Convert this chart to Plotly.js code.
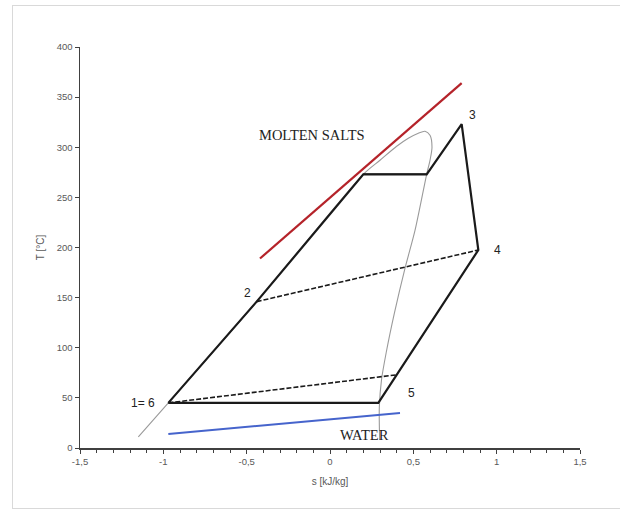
<!DOCTYPE html>
<html>
<head>
<meta charset="utf-8">
<script src="https://cdn.plot.ly/plotly-3.0.1.min.js"></script>
<style>
  html, body { margin: 0; padding: 0; background: #ffffff; }
  #wrap { position: relative; width: 620px; height: 510px; overflow: hidden; }
  #chart { width: 620px; height: 510px; }
  #frame { position: absolute; left: 12px; top: 5px; width: 640px; height: 502px;
           border: 1px solid #d9d9d9; pointer-events: none; }
</style>
</head>
<body>
<div id="wrap"><div id="chart"></div><div id="frame"></div></div>
<script>
// Rankine cycle (thick solid): 1 -> pump end -> 5 -> 4 -> 3 -> sat vapour -> sat liquid -> 2 -> 1
const cycleS = [-0.97, 0.29, 0.40, 0.89, 0.79, 0.58, 0.20, -0.44, -0.97];
const cycleT = [45, 45, 73, 197.5, 323, 273, 273, 146, 45];

// evaporation plateau (thinner)
const plateauS = [0.20, 0.58];
const plateauT = [273, 273];

// regenerator dashed lines
const regenHotS = [-0.44, 0.89];
const regenHotT = [146, 197.5];
const regenColdS = [-0.97, 0.40];
const regenColdT = [45, 73];

// saturation dome (grey)
const domeS = [-1.15, -0.97, -0.44, 0.20, 0.30, 0.40, 0.47, 0.53, 0.57, 0.60, 0.612, 0.60, 0.58, 0.51, 0.448, 0.387, 0.337, 0.309, 0.296, 0.298];
const domeT = [11, 45, 146, 273, 287, 301, 309, 314, 316, 312, 300, 287, 273, 217, 178, 135, 95, 68, 41, 8];

// heat source / sink lines
const saltS = [-0.42, 0.79];
const saltT = [189, 364];
const waterS = [-0.97, 0.42];
const waterT = [14, 35];

// state point labels
const ptLabels = ['1= 6', '2', '3', '4', '5'];
const ptS = [-0.97, -0.44, 0.79, 0.89, 0.40];
const ptT = [45, 146, 323, 197.5, 73];

const xTicks = [-1.5, -1, -0.5, 0, 0.5, 1, 1.5];
const yTicks = [0, 50, 100, 150, 200, 250, 300, 350, 400];

const traces = [
  { x: domeS, y: domeT, mode: 'lines', line: { color: '#9a9a9a', width: 1.1, shape: 'spline', smoothing: 0.8 }, hoverinfo: 'skip' },
  { x: saltS, y: saltT, mode: 'lines', line: { color: '#b5232a', width: 2.2 } },
  { x: waterS, y: waterT, mode: 'lines', line: { color: '#4664cc', width: 2 } },
  { x: regenHotS, y: regenHotT, mode: 'lines', line: { color: '#1a1a1a', width: 1.6, dash: '5px,2px' } },
  { x: regenColdS, y: regenColdT, mode: 'lines', line: { color: '#1a1a1a', width: 1.6, dash: '5px,2px' } },
  { x: plateauS, y: plateauT, mode: 'lines', line: { color: '#1a1a1a', width: 1.4 } },
  { x: cycleS, y: cycleT, mode: 'lines', line: { color: '#1a1a1a', width: 2.2 } }
];

const shifts = [[-25, 0], [-9, 9], [11, 9], [19, 0], [15, -18]];
const annotations = ptLabels.map((t, i) => ({
  x: ptS[i], y: ptT[i], xref: 'x', yref: 'y', text: t, showarrow: false,
  xshift: shifts[i][0], yshift: shifts[i][1],
  font: { family: 'Liberation Sans, Arial, sans-serif', size: 12, color: '#222' }
}));
annotations.push({ x: saltS[0], y: saltT[1], xref: 'x', yref: 'y', text: 'MOLTEN SALTS', showarrow: false,
  xshift: 52, yshift: -52,
  font: { family: 'Liberation Serif, Times New Roman, serif', size: 14.5, color: '#222' } });
annotations.push({ x: waterS[1], y: waterT[0], xref: 'x', yref: 'y', text: 'WATER', showarrow: false,
  xshift: -36, yshift: -1,
  font: { family: 'Liberation Serif, Times New Roman, serif', size: 14.5, color: '#222' } });

const tickFont = { family: 'Liberation Sans, Arial, sans-serif', size: 9.5, color: '#595959' };

const layout = {
  width: 620, height: 510,
  margin: { l: 80, r: 40, t: 47, b: 62 },
  paper_bgcolor: '#ffffff', plot_bgcolor: '#ffffff',
  showlegend: false,
  separators: ', ',
  xaxis: {
    range: [-1.5, 1.5], tickvals: xTicks, ticktext: xTicks.map(v => String(v).replace('.', ',')),
    showgrid: false, zeroline: false,
    showline: true, linecolor: '#404040', linewidth: 1.5,
    ticks: 'outside', ticklen: 4, tickcolor: '#404040', tickwidth: 1,
    minor: { dtick: 0.1, tick0: 0, ticks: 'outside', ticklen: 3, tickcolor: '#404040', tickwidth: 1 },
    tickfont: tickFont,
    title: { text: 's [kJ/kg]', font: { family: 'Liberation Sans, Arial, sans-serif', size: 10, color: '#595959' }, standoff: 12 },
    automargin: false, fixedrange: true
  },
  yaxis: {
    range: [0, 400], tickvals: yTicks,
    showgrid: false, zeroline: false,
    showline: true, linecolor: '#404040', linewidth: 1.5,
    ticks: 'outside', ticklen: 4, tickcolor: '#404040', tickwidth: 1,
    tickfont: tickFont,
    title: { text: 'T [°C]', font: { family: 'Liberation Sans, Arial, sans-serif', size: 10, color: '#595959' }, standoff: 10 },
    automargin: false, fixedrange: true
  },
  annotations: annotations
};

Plotly.newPlot('chart', traces, layout, { staticPlot: true, displayModeBar: false });
</script>
</body>
</html>
